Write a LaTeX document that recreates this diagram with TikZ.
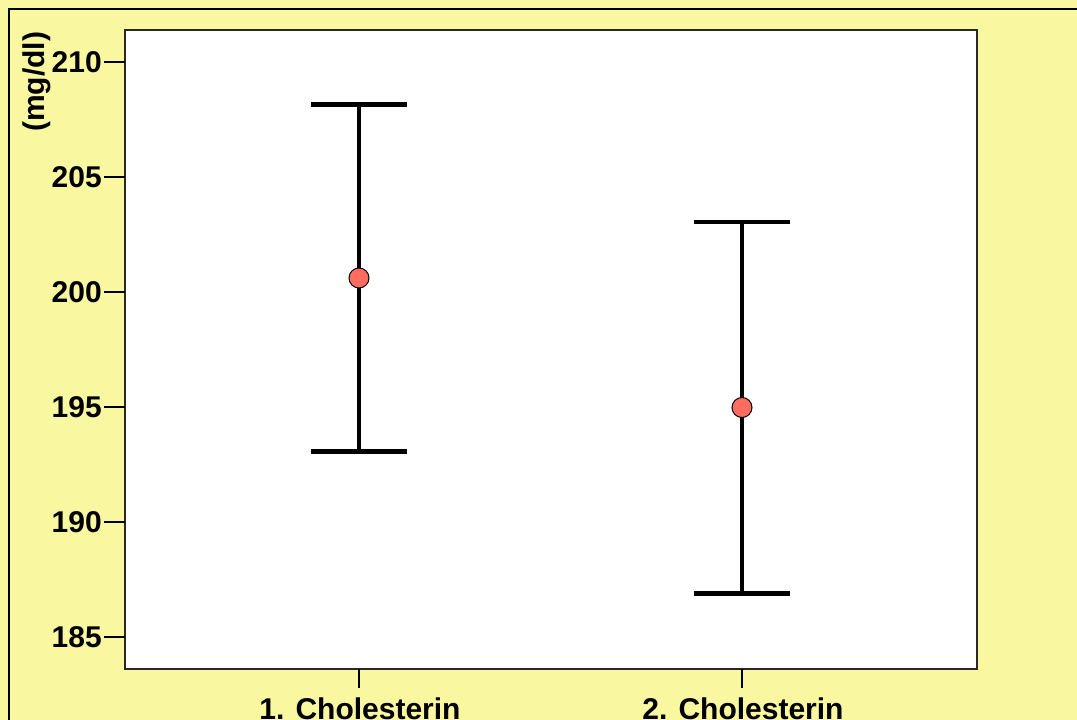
\documentclass[tikz,border=0pt]{standalone}
\usepackage{fontspec}
\setmainfont{Liberation Sans}
\definecolor{bgyellow}{RGB}{249,247,159}
\definecolor{framegray}{RGB}{40,40,40}
\definecolor{salmon}{RGB}{255,108,96}
\begin{document}
\begin{tikzpicture}[x=1pt,y=-1pt,
  lbl/.style={font=\fontsize{30}{36}\selectfont\bfseries, inner sep=0pt},
  bar/.style={line width=4.8pt},
  tickline/.style={line width=1.2pt},
  meanpt/.style={circle, draw=black, line width=1pt, fill=salmon, minimum size=20pt, inner sep=0pt}]
\useasboundingbox (0,0) rectangle (1077,720);
% outer panel
\fill[bgyellow] (0,0) rectangle (1077,720);
\draw[line width=2pt] (8.5,730) -- (8.5,8.5) -- (1090,8.5);
% plot area
\fill[white] (125,30) rectangle (977,669);
\draw[framegray, line width=1.5pt] (125,30) rectangle (977,669);
% y axis ticks and labels
\foreach \v in {185,190,195,200,205,210}{
  \pgfmathsetmacro{\yy}{62+(210-\v)*23}
  \draw[tickline] (104,\yy) -- (125,\yy);
  \node[lbl, anchor=east] (y\v) at (102,\yy) {\v};
}
\node[lbl, rotate=90] (unit) at (37,82) {(mg/dl)};
% x ticks and labels
\draw[tickline] (359,669) -- (359,688);
\draw[tickline] (742,669) -- (742,688);
\node[lbl, anchor=base] (x1) at (360,719.5) {1. Cholesterin};
\node[lbl, anchor=base] (x2) at (743,719.5) {2. Cholesterin};
% group 1
\coordinate (t1) at (359,104.5);
\coordinate (b1) at (359,451.5);
\draw[bar] (t1) -- (b1);
\draw[bar] ([xshift=-48pt]t1) -- ([xshift=48pt]t1);
\draw[bar] ([xshift=-48pt]b1) -- ([xshift=48pt]b1);
\node[meanpt] (m1) at (359,278) {};
% group 2
\coordinate (t2) at (742,222);
\coordinate (b2) at (742,593.5);
\draw[bar] (t2) -- (b2);
\draw[bar] ([xshift=-48pt]t2) -- ([xshift=48pt]t2);
\draw[bar] ([xshift=-48pt]b2) -- ([xshift=48pt]b2);
\node[meanpt] (m2) at (742,407.5) {};
\end{tikzpicture}
\end{document}
